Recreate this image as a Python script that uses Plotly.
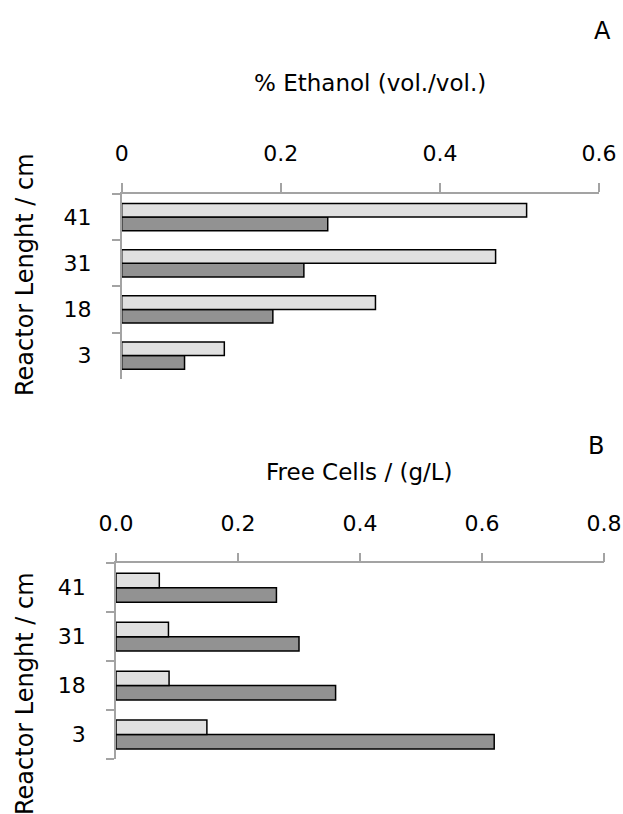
import plotly.graph_objects as go

# Reactor lengths (cm), bottom to top
lengths = ["3", "18", "31", "41"]

# Panel A: ethanol (% vol./vol.)
ethanol_light = [0.129, 0.319, 0.470, 0.509]
ethanol_dark = [0.079, 0.190, 0.229, 0.259]

# Panel B: free cells (g/L)
cells_light = [0.149, 0.087, 0.086, 0.071]
cells_dark = [0.620, 0.360, 0.300, 0.263]

ethanol_ticks = [0, 0.2, 0.4, 0.6]
ethanol_ticktext = ["0", "0.2", "0.4", "0.6"]
cells_ticks = [0, 0.2, 0.4, 0.6, 0.8]
cells_ticktext = ["0.0", "0.2", "0.4", "0.6", "0.8"]

W, H = 623, 814
FONT = "DejaVu Sans"
LIGHT = "#e0e0e0"
DARK = "#929292"
AXIS = "#a3a3a3"

fig = go.Figure()


def add_pair(light, dark, xa, ya):
    # dark first so that the light bar sits above it within each group
    fig.add_trace(go.Bar(y=lengths, x=dark, orientation="h", xaxis=xa, yaxis=ya,
                         marker=dict(color=DARK, line=dict(color="black", width=1.5)),
                         hoverinfo="x+y"))
    fig.add_trace(go.Bar(y=lengths, x=light, orientation="h", xaxis=xa, yaxis=ya,
                         marker=dict(color=LIGHT, line=dict(color="black", width=1.5)),
                         hoverinfo="x+y"))


add_pair(ethanol_light, ethanol_dark, "x", "y")
add_pair(cells_light, cells_dark, "x2", "y2")


def px_x(v):
    return v / W


def px_y(v):
    return 1 - v / H


xcommon = dict(side="top", showline=True, linecolor=AXIS, linewidth=1.5,
               ticks="outside", ticklen=9, tickwidth=1.5, tickcolor=AXIS,
               showgrid=False, zeroline=False, automargin=False,
               tickfont=dict(family=FONT, size=22, color="black"),
               ticklabelstandoff=13)
ycommon = dict(type="category", categoryorder="array", categoryarray=lengths,
               showline=True, linecolor=AXIS, linewidth=1.5,
               ticks="outside", ticklen=8, tickwidth=1.5, tickcolor=AXIS,
               tickson="boundaries", showgrid=False, zeroline=False,
               automargin=False,
               tickfont=dict(family=FONT, size=22, color="black"),
               ticklabelstandoff=24)

fig.update_layout(
    width=W, height=H,
    margin=dict(l=0, r=0, t=0, b=0, pad=0, autoexpand=False),
    paper_bgcolor="white", plot_bgcolor="white",
    showlegend=False, barmode="group", bargap=0.41, bargroupgap=0,
    xaxis=dict(domain=[px_x(121.7), px_x(599)], range=[0, 0.6],
               tickvals=ethanol_ticks, ticktext=ethanol_ticktext,
               anchor="y", **xcommon),
    yaxis=dict(domain=[px_y(378.7), px_y(194)], anchor="x", **ycommon),
    xaxis2=dict(domain=[px_x(116), px_x(604)], range=[0, 0.8],
                tickvals=cells_ticks, ticktext=cells_ticktext,
                anchor="y2", **xcommon),
    yaxis2=dict(domain=[px_y(759), px_y(563.3)], anchor="x2", **ycommon),
)

annots = [
    ("A", 602.7, 30.8, 24, 0),
    ("% Ethanol (vol./vol.)", 370, 83, 23, 0),
    ("Reactor Lenght / cm", 25, 275, 24, -90),
    ("B", 596, 446, 24, 0),
    ("Free Cells / (g/L)", 359, 472, 23, 0),
    ("Reactor Lenght / cm", 25, 694, 24, -90),
]
for text, x, y, size, ang in annots:
    fig.add_annotation(text=text, x=px_x(x), y=px_y(y), xref="paper", yref="paper",
                       xanchor="center", yanchor="middle", showarrow=False,
                       textangle=ang, font=dict(family=FONT, size=size, color="black"))

fig.write_html("out.html")
